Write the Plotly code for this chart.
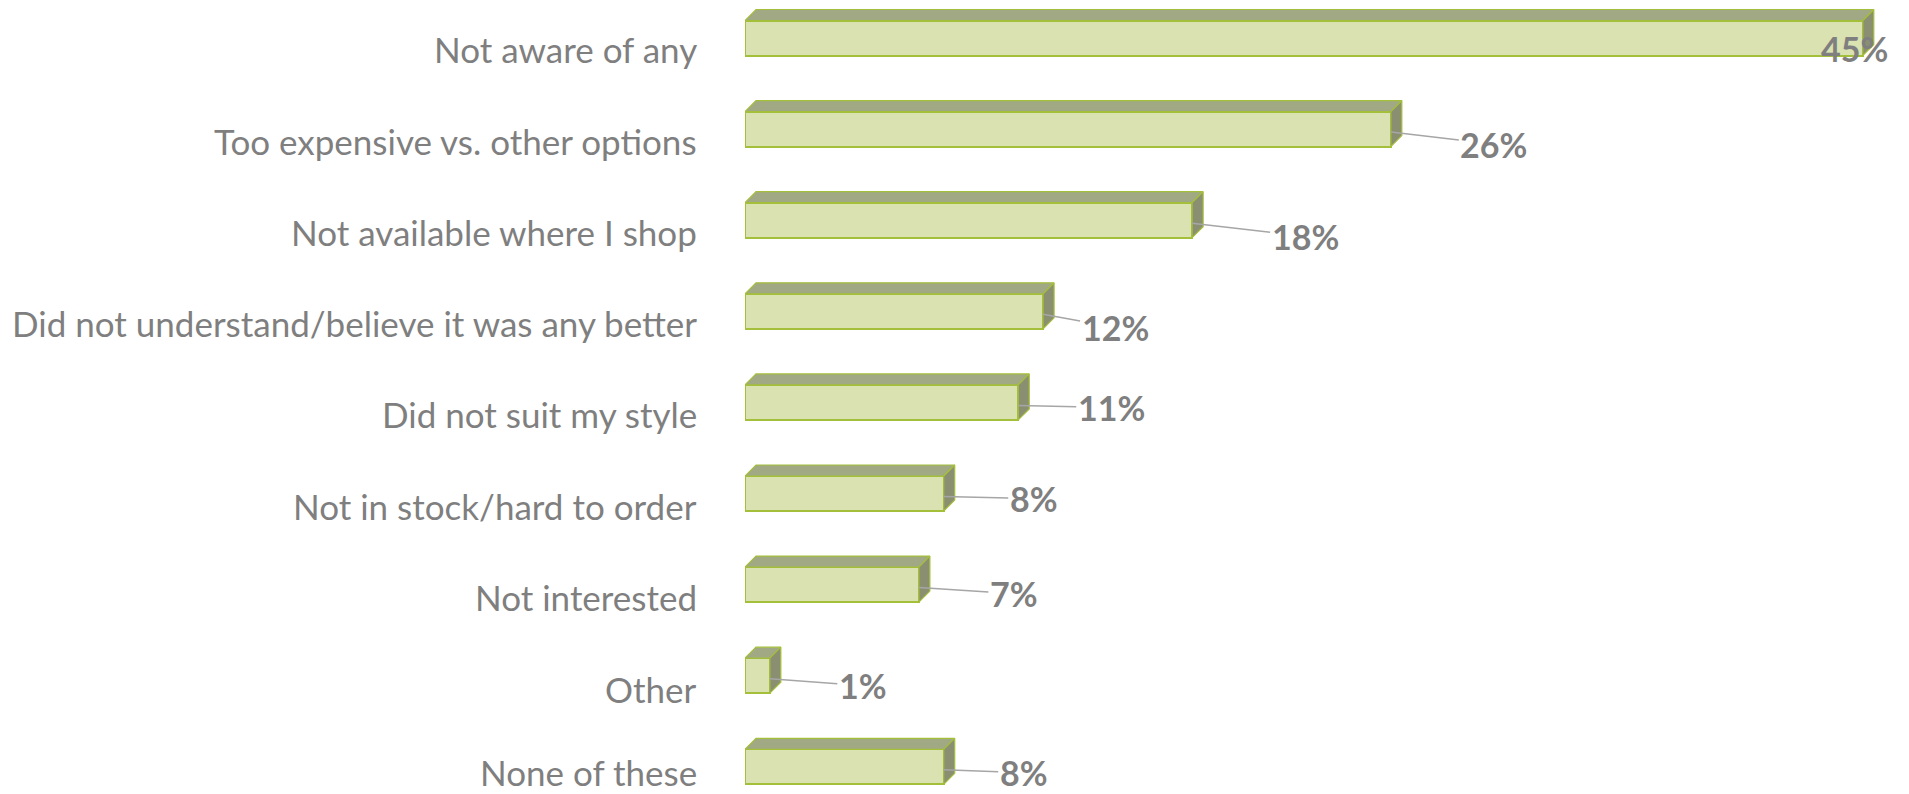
import plotly.graph_objects as go

# ---------------- data ----------------
categories = [
    "Not aware of any",
    "Too expensive vs. other options",
    "Not available where I shop",
    "Did not understand/believe it was any better",
    "Did not suit my style",
    "Not in stock/hard to order",
    "Not interested",
    "Other",
    "None of these",
]
values = [45, 26, 18, 12, 11, 8, 7, 1, 8]
value_labels = ["45%", "26%", "18%", "12%", "11%", "8%", "7%", "1%", "8%"]

# ---------------- styling / layout constants ----------------
W, H = 1909, 794
M_L, M_R, M_T, M_B = 745, 0, 0, 0
PX_PER_X = 24.84          # pixels per percentage point
ROW_PX = 91.1             # pixels between rows
ROW0_PX = 38              # pixel of first bar centre
BAR_PX = 35               # bar thickness in px
DEPTH_X_PX, DEPTH_Y_PX = 11, 11
# category labels sit slightly below bar centres (px)
label_shift = [11, 12, 12, 12, 12, 12, 12, 13, 5]
LABEL_GAP_PX = 46         # gap between category labels and bars
# data label offsets from bar end (px): (dx, dy)
label_offsets = [(-8, 7), (103, 12), (113, 13), (72, 13), (93, 2), (90, 2), (95, 6), (93, 7), (80, 3)]

FRONT = "#d9e2b0"
EDGE = "#a4bf3a"
TOP = "#a1a884"
SIDE = "#8a8f72"
TEXT = "#7f7f7f"
LEADER = "#a6a6a6"

plot_w = W - M_L - M_R
x_max = plot_w / PX_PER_X
y_top = -ROW0_PX / ROW_PX
y_bot = y_top + (H - M_T - M_B) / ROW_PX
bw = BAR_PX / ROW_PX
dx = DEPTH_X_PX / PX_PER_X
dy = DEPTH_Y_PX / ROW_PX

pos = list(range(len(categories)))

fig = go.Figure()

# top and side faces of 3D bars
top_x, top_y, side_x, side_y = [], [], [], []
for i, v in zip(pos, values):
    yt = i - bw / 2
    yb = i + bw / 2
    top_x += [0, v, v + dx, dx, 0, None]
    top_y += [yt, yt, yt - dy, yt - dy, yt, None]
    side_x += [v, v + dx, v + dx, v, v, None]
    side_y += [yt, yt - dy, yb - dy, yb, yt, None]

fig.add_trace(go.Scatter(x=top_x, y=top_y, mode="lines", fill="toself",
                         fillcolor=TOP, line=dict(color=EDGE, width=1.2),
                         hoverinfo="skip", showlegend=False))
fig.add_trace(go.Scatter(x=side_x, y=side_y, mode="lines", fill="toself",
                         fillcolor=SIDE, line=dict(color=EDGE, width=1.2),
                         hoverinfo="skip", showlegend=False))

# front faces
fig.add_trace(go.Bar(x=values, y=pos, orientation="h", width=bw,
                     marker=dict(color=FRONT, line=dict(color=EDGE, width=2)),
                     hoverinfo="skip", showlegend=False))

# category labels
for i, cat, sh in zip(pos, categories, label_shift):
    fig.add_annotation(
        x=0, y=i, xref="paper", yref="y", text=cat, showarrow=False,
        xanchor="right", yanchor="middle", xshift=-LABEL_GAP_PX, yshift=-sh,
        font=dict(family="Lato", size=35, color=TEXT),
    )

# data labels with leader lines
for i, v, lab, (ox, oy) in zip(pos, values, value_labels, label_offsets):
    show = abs(ox) > 30
    fig.add_annotation(
        x=v, y=i + 3 / ROW_PX, xref="x", yref="y",
        text=f"<b>{lab}</b>", showarrow=show, arrowhead=0, arrowwidth=1.5,
        arrowcolor=LEADER, ax=ox, ay=oy, standoff=0,
        xshift=0 if show else ox, yshift=0 if show else -oy,
        font=dict(family="Lato", size=34, color=TEXT),
    )

fig.update_layout(
    width=W, height=H,
    margin=dict(l=M_L, r=M_R, t=M_T, b=M_B),
    paper_bgcolor="white", plot_bgcolor="white",
    xaxis=dict(range=[0, x_max], visible=False, fixedrange=True),
    yaxis=dict(range=[y_bot, y_top], visible=False, fixedrange=True),
    bargap=0,
)

fig.write_html(
    "out.html",
    config={"displayModeBar": False},
    post_script="document.body.style.margin='0';document.body.style.overflow='hidden';",
)
